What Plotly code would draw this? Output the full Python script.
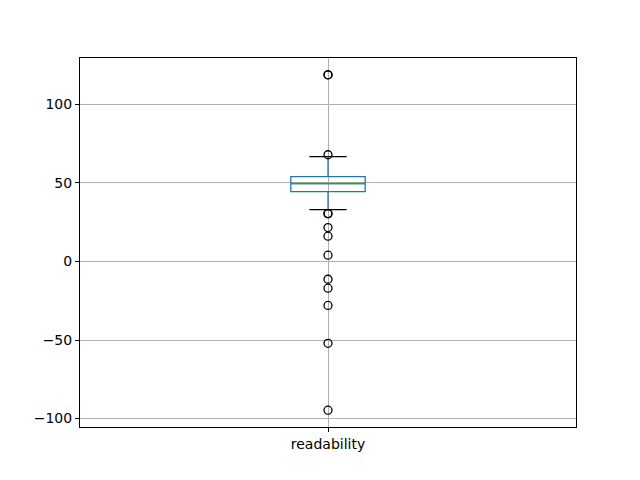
import plotly.graph_objects as go

# summary stats
category = "readability"
q1 = 44.5
median = 49.6
q3 = 54.0
lower_whisker = 33.1
upper_whisker = 66.8
outliers = [118.9, 118.9, 68.0, 30.5, 30.5, 21.6, 16.1, 4.0, -11.3, -17.0, -28.0, -52.1, -94.7]

y_ticks = [-100, -50, 0, 50, 100]

pos = 1
box_w = 0.15
cap_w = box_w / 2

fig = go.Figure()

fig.add_trace(go.Box(
    x=[pos], q1=[q1], median=[median], q3=[q3],
    lowerfence=[lower_whisker], upperfence=[upper_whisker],
    width=box_w, whiskerwidth=0, boxpoints=False,
    line=dict(color="#1f77b4", width=1.3),
    fillcolor="rgba(0,0,0,0)", hoverinfo="skip", showlegend=False,
))

# median line (green, as matplotlib draws it)
fig.add_trace(go.Scatter(
    x=[pos - box_w / 2, pos + box_w / 2], y=[median, median],
    mode="lines", line=dict(color="#2ca02c", width=1.5),
    hoverinfo="skip", showlegend=False,
))

# black whisker caps
for w in [lower_whisker, upper_whisker]:
    fig.add_trace(go.Scatter(
        x=[pos - cap_w / 2, pos + cap_w / 2], y=[w, w],
        mode="lines", line=dict(color="black", width=1.3),
        hoverinfo="skip", showlegend=False,
    ))

fig.add_trace(go.Scatter(
    x=[pos] * len(outliers), y=outliers, mode="markers",
    marker=dict(symbol="circle-open", size=8, color="black", line=dict(width=1.3)),
    showlegend=False,
))

axis_common = dict(
    showline=True, linecolor="black", linewidth=1, mirror=True,
    ticks="outside", ticklen=4, tickcolor="black",
    showgrid=True, gridcolor="#b0b0b0", gridwidth=0.8, zeroline=False,
)

fig.update_xaxes(range=[0.5, 1.5], tickvals=[pos], ticktext=[category], **axis_common)
fig.update_yaxes(range=[-105.4, 129.6], tickvals=y_ticks,
                 ticktext=[str(t).replace("-", "\u2212") for t in y_ticks], **axis_common)

fig.update_layout(
    width=640, height=480,
    margin=dict(l=72, r=72, t=50, b=61),
    paper_bgcolor="white", plot_bgcolor="white",
    font=dict(family="DejaVu Sans", size=14, color="black"),
)

fig.write_html("out.html")
